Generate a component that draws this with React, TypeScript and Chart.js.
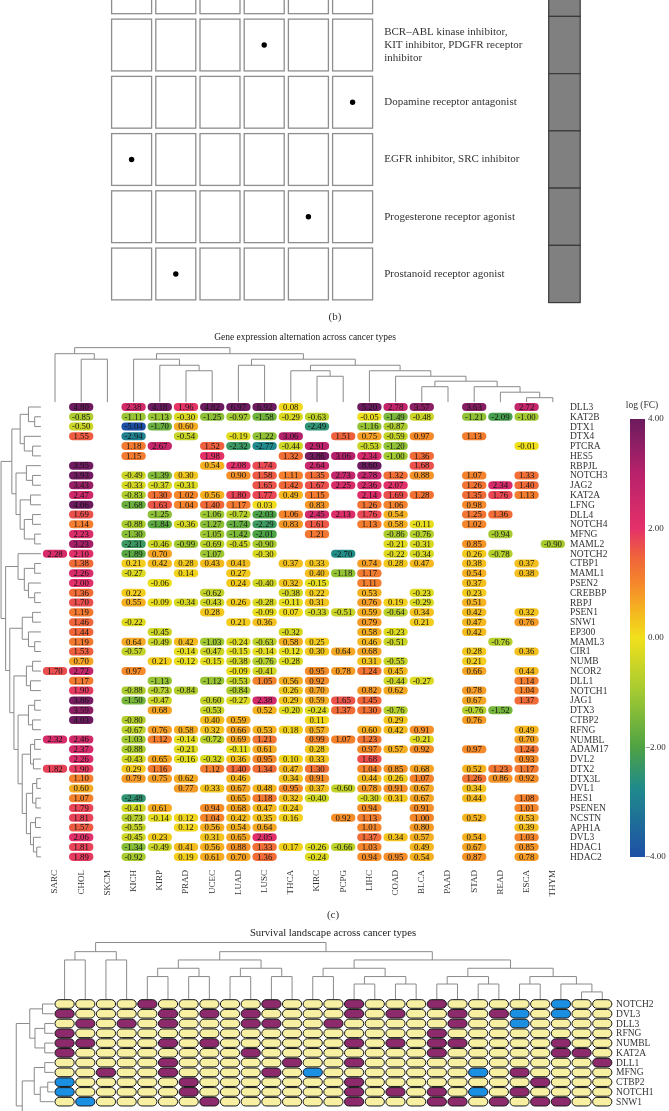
import { useEffect, useRef } from "react";
import { Chart, registerables } from "chart.js";
Chart.register(...registerables);

const SERIF = '"Liberation Serif", "DejaVu Serif", serif';
const _ = null;

// ---------- Panel (b): drug classes ----------
const drugColumns = [1, 2, 3, 4, 5, 6];
const drugRowSlots = [0, 1, 2, 3, 4, 5];
const drugClassLabels = [
  ["BCR–ABL kinase inhibitor,", "KIT inhibitor, PDGFR receptor", "inhibitor"],
  ["Dopamine receptor antagonist"],
  ["EGFR inhibitor, SRC inhibitor"],
  ["Progesterone receptor agonist"],
  ["Prostanoid receptor agonist"],
];
const drugHitRow = [1, 2, 3, 4, 5];
const drugHitColumn = [4, 6, 1, 5, 2];

// ---------- Panel (c): expression heatmap ----------
const cancerTypes = ["SARC", "CHOL", "SKCM", "KICH", "KIRP", "PRAD", "UCEC", "LUAD", "LUSC", "THCA", "KIRC", "PCPG", "LIHC", "COAD", "BLCA", "PAAD", "STAD", "READ", "ESCA", "THYM"];
const genes = ["DLL3", "KAT2B", "DTX1", "DTX4", "PTCRA", "HES5", "RBPJL", "NOTCH3", "JAG2", "KAT2A", "LFNG", "DLL4", "NOTCH4", "MFNG", "MAML2", "NOTCH2", "CTBP1", "MAML1", "PSEN2", "CREBBP", "RBPJ", "PSEN1", "SNW1", "EP300", "MAML3", "CIR1", "NUMB", "NCOR2", "DLL1", "NOTCH1", "JAG1", "DTX3", "CTBP2", "RFNG", "NUMBL", "ADAM17", "DVL2", "DTX2", "DTX3L", "DVL1", "HES1", "PSENEN", "NCSTN", "APH1A", "DVL3", "HDAC1", "HDAC2"];
const logFC = [
  [_, 4.80, _, 2.38, 4.18, 1.96, 4.82, 6.97, 6.92, 0.08, _, _, 5.20, 2.78, 3.57, _, 3.63, _, 2.72, _],
  [_, -0.85, _, -1.11, -1.13, -0.30, -1.25, -0.97, -1.58, -0.29, -0.63, _, -0.05, -1.49, -0.48, _, -1.21, -2.09, -1.00, _],
  [_, -0.50, _, -5.04, -1.70, 0.60, _, _, _, _, -2.49, _, -1.16, -0.87, _, _, _, _, _, _],
  [_, 1.55, _, -2.94, _, -0.54, _, -0.19, -1.22, 3.06, _, 1.51, 0.75, -0.59, 0.97, _, 1.13, _, _, _],
  [_, _, _, 1.18, 2.67, _, 1.52, -2.32, -2.77, -0.44, 2.91, _, -0.53, -1.20, _, _, _, _, -0.01, _],
  [_, _, _, 1.15, _, _, 1.98, _, _, 1.32, 3.86, 3.06, 2.34, -1.00, 1.36, _, _, _, _, _],
  [_, 3.95, _, _, _, _, 0.54, 2.08, 1.74, _, 2.64, _, 8.60, _, 1.68, _, _, _, _, _],
  [_, 3.93, _, -0.49, -1.39, 0.30, _, 0.90, 1.58, 1.11, 1.35, 2.73, 2.78, 1.32, 0.88, _, 1.07, _, 1.33, _],
  [_, 3.43, _, -0.33, -0.37, -0.31, _, _, 1.65, 1.42, 1.67, 2.25, 2.36, 2.07, _, _, 1.26, 2.34, 1.40, _],
  [_, 2.47, _, -0.83, 1.30, 1.02, 0.56, 1.80, 1.77, 0.49, 1.15, _, 2.14, 1.69, 1.28, _, 1.35, 1.76, 1.13, _],
  [_, 4.06, _, -1.68, 1.63, 1.04, 1.40, 1.17, 0.03, _, 0.83, _, 1.26, 1.06, _, _, 0.98, _, _, _],
  [_, 1.69, _, _, -1.25, _, -1.06, -0.72, -2.03, 1.06, 2.45, 2.13, 1.76, 0.54, _, _, 1.25, 1.36, _, _],
  [_, 1.14, _, -0.88, -1.84, -0.36, -1.27, -1.74, -2.29, 0.83, 1.61, _, 1.13, 0.58, -0.11, _, 1.02, _, _, _],
  [_, 2.23, _, -1.30, _, _, -1.05, -1.42, -2.01, _, 1.21, _, _, -0.86, -0.76, _, _, -0.94, _, _],
  [_, 3.23, _, -2.31, -0.46, -0.99, -0.69, -0.45, -0.90, _, _, _, _, -0.21, -0.31, _, 0.85, _, _, -0.90],
  [2.28, 2.10, _, -1.89, 0.70, _, -1.07, _, -0.30, _, _, -2.70, _, -0.22, -0.34, _, 0.26, -0.78, _, _],
  [_, 1.38, _, 0.21, 0.42, 0.28, 0.43, 0.41, _, 0.37, 0.33, _, 0.74, 0.28, 0.47, _, 0.38, _, 0.37, _],
  [_, 2.26, _, -0.27, _, 0.14, _, 0.27, _, _, 0.40, -1.18, 1.17, _, _, _, 0.54, _, 0.38, _],
  [_, 2.00, _, _, -0.06, _, _, 0.24, -0.40, 0.32, -0.15, _, 1.11, _, _, _, 0.37, _, _, _],
  [_, 1.36, _, 0.22, _, _, -0.62, _, _, -0.38, 0.22, _, 0.53, _, -0.23, _, 0.23, _, _, _],
  [_, 1.70, _, 0.55, -0.09, -0.34, -0.43, 0.26, -0.28, -0.11, 0.31, _, 0.76, 0.19, -0.29, _, 0.51, _, _, _],
  [_, 1.19, _, _, _, _, 0.28, _, -0.09, 0.07, -0.33, -0.51, 0.59, -0.64, 0.34, _, 0.42, _, 0.32, _],
  [_, 1.46, _, -0.22, _, _, _, 0.21, 0.36, _, _, _, 0.79, _, 0.21, _, 0.47, _, 0.76, _],
  [_, 1.44, _, _, -0.45, _, _, _, _, -0.32, _, _, 0.58, -0.23, _, _, 0.42, _, _, _],
  [_, 1.19, _, 0.64, -0.49, 0.42, -1.03, -0.24, -0.63, 0.58, 0.25, _, 0.46, -0.51, _, _, _, -0.76, _, _],
  [_, 1.53, _, -0.57, _, -0.14, -0.47, -0.15, -0.14, -0.12, 0.30, 0.64, 0.68, _, _, _, 0.28, _, 0.36, _],
  [_, 0.70, _, _, 0.21, -0.12, -0.15, -0.38, -0.76, -0.28, _, _, 0.31, -0.55, _, _, 0.21, _, _, _],
  [1.70, 2.72, _, 0.97, _, _, _, -0.09, -0.41, _, 0.95, 0.78, 1.24, 0.45, _, _, 0.66, _, 0.44, _],
  [_, 1.17, _, _, -1.13, _, -1.12, -0.53, 1.05, 0.56, 0.92, _, _, -0.44, -0.27, _, _, _, 1.14, _],
  [_, 1.90, _, -0.88, -0.73, -0.84, _, -0.84, _, 0.26, 0.70, _, 0.82, 0.62, _, _, 0.78, _, 1.04, _],
  [_, 3.86, _, -1.50, -0.47, _, -0.60, -0.27, 2.38, 0.29, 0.59, 1.65, 1.45, _, _, _, 0.67, _, 1.37, _],
  [_, 3.59, _, _, 0.68, _, -0.53, _, 0.52, -0.20, -0.24, 1.37, 1.30, -0.76, _, _, -0.76, -1.52, _, _],
  [_, 4.03, _, -0.80, _, _, 0.40, 0.59, _, _, 0.11, _, _, 0.29, _, _, 0.76, _, _, _],
  [_, _, _, -0.67, 0.76, 0.58, 0.32, 0.66, 0.53, 0.18, 0.57, _, 0.60, 0.42, 0.91, _, _, _, 0.49, _],
  [2.32, 2.46, _, -1.03, 1.12, -0.14, -0.72, 0.69, 1.21, _, 0.99, 1.07, 1.23, _, -0.21, _, _, _, 0.70, _],
  [_, 2.37, _, -0.88, _, -0.21, _, -0.11, 0.61, _, 0.28, _, 0.97, 0.57, 0.92, _, 0.97, _, 1.24, _],
  [_, 2.26, _, -0.43, 0.65, -0.16, -0.32, 0.36, 0.95, 0.10, 0.33, _, 1.68, _, _, _, _, _, 0.93, _],
  [1.82, 1.90, _, 0.29, 1.16, _, 1.12, 1.40, 1.34, 0.47, 1.30, _, 1.04, 0.85, 0.68, _, 0.52, 1.23, 1.17, _],
  [_, 1.10, _, 0.79, 0.75, 0.62, _, 0.46, _, 0.34, 0.91, _, 0.44, 0.26, 1.07, _, 1.26, 0.86, 0.92, _],
  [_, 0.60, _, _, _, 0.77, 0.33, 0.67, 0.48, 0.95, 0.37, -0.60, 0.78, 0.91, 0.67, _, 0.34, _, _, _],
  [_, 1.07, _, -2.48, _, _, _, 0.65, 1.18, 0.32, -0.40, _, -0.30, 0.31, 0.67, _, 0.44, _, 1.08, _],
  [_, 1.79, _, -0.41, 0.61, _, 0.94, 0.68, 0.47, 0.24, _, _, 0.94, _, 0.91, _, _, _, 1.01, _],
  [_, 1.81, _, -0.73, -0.14, 0.12, 1.04, 0.42, 0.35, 0.16, _, 0.92, 1.13, _, 1.00, _, 0.52, _, 0.53, _],
  [_, 1.57, _, -0.55, _, 0.12, 0.56, 0.54, 0.64, _, _, _, 1.01, _, 0.80, _, _, _, 0.39, _],
  [_, 2.06, _, -0.45, 0.23, _, 0.31, 0.65, 2.05, _, _, _, 1.37, 0.34, 0.57, _, 0.54, _, 1.03, _],
  [_, 1.81, _, -1.34, -0.49, 0.41, 0.56, 0.88, 1.33, 0.17, -0.26, -0.66, 1.03, _, 0.49, _, 0.67, _, 0.85, _],
  [_, 1.89, _, -0.92, _, 0.19, 0.61, 0.70, 1.36, _, -0.24, _, 0.94, 0.95, 0.54, _, 0.87, _, 0.78, _],
];
const legendTicks = [4, 2, 0, -2, -4];

type Tree = number | { h: number; c: [Tree, Tree] };
const n = (h: number, a: Tree, b: Tree): Tree => ({ h, c: [a, b] });

// column clustering (merge heights)
const exprColTree: Tree = n(9.9,
  n(8.8, 0, n(7.8, 1, 2)),
  n(8.8,
    n(7.8, 3, n(6.7, 4, n(5.7, 5, 6))),
    n(7.8,
      n(6.7, 7, 8),
      n(6.7,
        n(5.7, 9, n(4.7, 10, 11)),
        n(5.7, 12, n(4.7, 13, n(3.8, n(2.8, 14, 15), n(2.8, 16, n(1.8, 17, n(0.8, 18, 19))))))))));

// row clustering (merge heights)
const exprRowTree: Tree = n(9.6,
  n(7, n(5, n(3, 0, n(1.5, 1, 2)), n(4, 3, n(2, 4, 5))),
    n(6, n(3.5, 6, n(2, 7, 8)), n(5, n(2.5, 9, 10), n(4, n(2, 11, 12), n(1.5, 13, 14))))),
  n(8.5,
    n(5.5, 15, n(4, n(1.5, 16, 17), n(3, 18, n(1.5, 19, 20)))),
    n(7.5,
      n(4.5, n(2, 21, 22), n(3, 23, n(1.5, 24, 25))),
      n(6.5,
        n(3.5, n(2, 26, 27), n(2.5, 28, 29)),
        n(5.5,
          n(3, n(1.5, 30, 31), n(2, 32, 33)),
          n(4.5,
            n(2.5, n(1.5, 34, 35), n(1.8, 36, 37)),
            n(3.5, n(2, n(1, 38, 39), n(1.2, 40, 41)),
              n(2.5, n(1.3, 42, 43), n(1.8, 44, n(1, 45, 46))))))))));

// ---------- Survival landscape ----------
const survivalGenes = ["NOTCH2", "DVL3", "DLL3", "RFNG", "NUMBL", "KAT2A", "DLL1", "MFNG", "CTBP2", "NOTCH1", "SNW1"];
// 1 = risk (purple), -1 = protective (blue), 0 = not significant
const survNOTCH2 = [0, 0, 0, 0, 1, 0, 0, 0, 0, 0, 1, 0, 0, 0, 1, 0, 0, 0, 1, 0, 0, 0, 0, 0, -1, 0, 0];
const survDVL3 = [1, 0, 0, 0, 0, 1, 0, 1, 0, 1, 0, 0, 0, 0, 1, 0, 1, 0, 0, 1, 0, 1, -1, 0, -1, 0, 0];
const survDLL3 = [0, 1, 0, 1, 0, 1, 0, 0, 0, 1, 1, 0, 0, 1, 0, 0, 0, 0, 0, 1, 0, 0, -1, 0, 0, 0, 0];
const survRFNG = [1, 0, 0, 0, 0, 0, 0, 0, 0, 0, 0, 0, 0, 0, 0, 0, 0, 0, 1, 0, 0, 0, 0, 0, 0, 0, 0];
const survNUMBL = [1, 1, 0, 0, 0, 1, 0, 1, 0, 0, 0, 0, 0, 0, 1, 0, 1, 0, 1, 1, 0, 0, 0, 0, 1, 0, 0];
const survKAT2A = [1, 0, 0, 0, 0, 0, 0, 0, 0, 1, 0, 0, 0, 0, 0, 0, 0, 0, 1, 0, 0, 0, 0, 0, 1, 1, 0];
const survDLL1 = [0, 0, 0, 0, 0, 1, 0, 0, 0, 0, 0, 1, 0, 0, 1, 0, 0, 0, 0, 0, 0, 0, 0, 0, 0, 0, 1];
const survMFNG = [0, 0, 1, 0, 0, 1, 0, 0, 0, 0, 1, 0, -1, 0, 0, 0, 0, 0, 0, 0, -1, 0, 1, 0, 0, 0, 0];
const survCTBP2 = [-1, 0, 0, 0, 0, 0, 1, 0, 0, 0, 0, 0, 0, 0, 1, 0, 0, 0, 0, 0, 0, 0, 0, 1, 0, 0, 0];
const survNOTCH1 = [-1, 0, 0, 0, 0, 0, 1, 0, 0, 0, 0, 0, 0, 0, 1, 0, 1, 0, 1, 0, -1, 0, 1, 0, 0, 0, 0];
const survSNW1 = [0, -1, 0, 0, 0, 0, 0, 1, 0, 0, 0, 0, 0, 0, 1, 0, 0, 0, 1, 1, 0, 1, 0, 1, 1, 0, 0];
const survivalRows = [survNOTCH2, survDVL3, survDLL3, survRFNG, survNUMBL, survKAT2A, survDLL1, survMFNG, survCTBP2, survNOTCH1, survSNW1];

const survColTree: Tree = n(6.9,
  n(5.8, n(4.8, 0, 1), n(4.8, 2, 3)),
  n(5.8,
    n(4.8, n(3.8, n(2.8, 4, 5), n(2.8, 6, 7)), n(3.8, n(2.8, 8, 9), n(2.8, 10, 11))),
    n(4.8,
      n(3.8, n(2.8, 12, 13), n(2.8, n(1.9, 14, 15), n(1.9, 16, 17))),
      n(3.8, n(2.8, n(1.9, 18, 19), n(1.9, 20, 21)), n(2.8, n(1.9, 22, 23), n(1.9, 24, n(0.95, 25, 26)))))));
// rows continue below the visible part (index 13 = rest of the tree)
const survRowTree: Tree = n(5,
  n(3.2, n(1.5, 0, 1), n(2.5, n(1.2, 2, 3), n(1.2, 4, 5))),
  n(4.2, n(2.6, n(1.2, 6, 7), n(1.8, n(0.8, 8, 9), 10)), 13));

// ---------- helpers ----------
const fcStops: [number, string][] = [
  [-4, "#1e4fa6"], [-2.75, "#1f8a8c"], [-2, "#4ea244"], [-1, "#a2c932"], [0, "#f1e01c"],
  [0.5, "#f5b520"], [1, "#f5872b"], [1.5, "#ef623c"], [2, "#e4306a"], [3, "#b8226b"], [4, "#6b1b5e"],
];
function hex(c: string) { return [1, 3, 5].map((i) => parseInt(c.slice(i, i + 2), 16)); }
function fcColor(v: number) {
  const x = Math.max(-4, Math.min(4, v));
  for (let i = 0; i < fcStops.length - 1; i++) {
    const [a, ca] = fcStops[i];
    const [b, cb] = fcStops[i + 1];
    if (x >= a && x <= b) {
      const t = (x - a) / (b - a);
      const A = hex(ca), B = hex(cb);
      return `rgb(${A.map((q, k) => Math.round(q + (B[k] - q) * t)).join(",")})`;
    }
  }
  return fcStops[fcStops.length - 1][1];
}
const survColors: Record<string, string> = { "0": "#f7f0a3", "1": "#8c2a6b", "-1": "#1b8fe2" };

function pill(ctx: CanvasRenderingContext2D, cx: number, cy: number, w: number, h: number) {
  const r = h / 2;
  ctx.beginPath();
  ctx.moveTo(cx - w / 2 + r, cy - r);
  ctx.lineTo(cx + w / 2 - r, cy - r);
  ctx.arc(cx + w / 2 - r, cy, r, -Math.PI / 2, Math.PI / 2);
  ctx.lineTo(cx - w / 2 + r, cy + r);
  ctx.arc(cx - w / 2 + r, cy, r, Math.PI / 2, (3 * Math.PI) / 2);
  ctx.closePath();
}

function drawTree(ctx: CanvasRenderingContext2D, t: Tree, leafPos: (i: number) => number, hPos: (h: number) => number, columns: boolean) {
  const seg = (a: number, b: number, c: number, d: number) => {
    ctx.beginPath();
    if (columns) { ctx.moveTo(a, b); ctx.lineTo(c, d); } else { ctx.moveTo(b, a); ctx.lineTo(d, c); }
    ctx.stroke();
  };
  const rec = (node: Tree): { p: number; q: number } => {
    if (typeof node === "number") return { p: leafPos(node), q: hPos(0) };
    const a = rec(node.c[0]);
    const b = rec(node.c[1]);
    const q = hPos(node.h);
    seg(a.p, a.q, a.p, q);
    seg(b.p, b.q, b.p, q);
    seg(a.p, q, b.p, q);
    return { p: (a.p + b.p) / 2, q };
  };
  rec(t);
}

const baseOptions = (padding: any, x: any, y: any) => ({
  responsive: false,
  animation: false as const,
  events: [],
  layout: { padding },
  scales: { x: { type: "linear", display: false, ...x }, y: { type: "linear", display: false, ...y } },
  plugins: { legend: { display: false }, tooltip: { enabled: false }, title: { display: false } },
});

// ---------- chart configs ----------
function configB(): any {
  const plugin = {
    id: "drugPanel",
    beforeDatasetsDraw(chart: any) {
      const { ctx } = chart;
      const xs = chart.scales.x, ys = chart.scales.y;
      const pw = xs.getPixelForValue(2) - xs.getPixelForValue(1);
      const ph = ys.getPixelForValue(2) - ys.getPixelForValue(1);
      const w = pw * 0.905, h = ph * 0.905;
      ctx.save();
      ctx.strokeStyle = "#8e8e8e";
      ctx.lineWidth = 1.3;
      drugRowSlots.forEach((r) => drugColumns.forEach((c) => {
        const cx = xs.getPixelForValue(c), cy = ys.getPixelForValue(r);
        ctx.fillStyle = "#ffffff";
        ctx.fillRect(cx - w / 2, cy - h / 2, w, h);
        ctx.strokeRect(cx - w / 2, cy - h / 2, w, h);
      }));
      ctx.fillStyle = "#333";
      ctx.font = `11px ${SERIF}`;
      ctx.textBaseline = "middle";
      ctx.textAlign = "left";
      const lx = xs.right + 9.5;
      drugClassLabels.forEach((lines, i) => {
        const cy = ys.getPixelForValue(drugHitRow[i]);
        lines.forEach((ln, k) => ctx.fillText(ln, lx, cy + (k - (lines.length - 1) / 2) * 13.3));
      });
      const bx = xs.right + 174, bw = 31.5;
      drugRowSlots.forEach((r) => {
        const cy = ys.getPixelForValue(r);
        ctx.fillStyle = "#808080";
        ctx.fillRect(bx, cy - ph / 2, bw, ph);
        ctx.strokeStyle = "#3a3a3a";
        ctx.lineWidth = 1.2;
        ctx.strokeRect(bx, cy - ph / 2, bw, ph);
      });
      ctx.fillStyle = "#333";
      ctx.font = `11px ${SERIF}`;
      ctx.textAlign = "center";
      ctx.fillText("(b)", 335, 317);
      ctx.restore();
    },
  };
  return {
    type: "scatter",
    data: {
      datasets: [{
        data: drugHitColumn.map((c, i) => ({ x: c, y: drugHitRow[i] })),
        pointRadius: 2.7, pointBackgroundColor: "#000", pointBorderWidth: 0,
      }],
    },
    options: baseOptions({ left: 109.5, right: 294.3, top: 16.4, bottom: 22.4 }, { min: 0.5, max: 6.5 }, { min: 0.5, max: 5.5, reverse: true }),
    plugins: [plugin],
  };
}

function configC(): any {
  const cells: any[] = [];
  logFC.forEach((row, r) => row.forEach((v, c) => { if (v !== null) cells.push({ x: c, y: r, v }); }));
  const plugin = {
    id: "exprHeatmap",
    afterDatasetsDraw(chart: any) {
      const { ctx } = chart;
      const xs = chart.scales.x, ys = chart.scales.y;
      const pw = xs.getPixelForValue(1) - xs.getPixelForValue(0);
      const ph = ys.getPixelForValue(1) - ys.getPixelForValue(0);
      ctx.save();
      ctx.fillStyle = "#222";
      ctx.font = `9.5px ${SERIF}`;
      ctx.textAlign = "center";
      ctx.textBaseline = "middle";
      ctx.fillText("Gene expression alternation across cancer types", 305, 12);
      ctx.strokeStyle = "#8a8a8a";
      ctx.lineWidth = 1;
      drawTree(ctx, exprColTree, (i) => xs.getPixelForValue(i), (h) => ys.top - h * 5.5, true);
      drawTree(ctx, exprRowTree, (i) => ys.getPixelForValue(i), (h) => xs.left - 1 - h * 4.15, false);
      const cw = pw * 0.93, chh = ph * 0.82;
      ctx.font = `8.8px ${SERIF}`;
      chart.data.datasets[0].data.forEach((d: any) => {
        const cx = xs.getPixelForValue(d.x), cy = ys.getPixelForValue(d.y);
        ctx.fillStyle = fcColor(d.v);
        pill(ctx, cx, cy, cw, chh);
        ctx.fill();
        ctx.fillStyle = "#141414";
        ctx.fillText(d.v.toFixed(2), cx, cy + 0.5);
      });
      ctx.fillStyle = "#333";
      ctx.font = `9.5px ${SERIF}`;
      ctx.textAlign = "left";
      genes.forEach((g, i) => ctx.fillText(g, xs.right + 4.1, ys.getPixelForValue(i) + 0.5));
      ctx.font = `9px ${SERIF}`;
      cancerTypes.forEach((c, i) => {
        ctx.save();
        ctx.translate(xs.getPixelForValue(i), ys.bottom + 8.2);
        ctx.rotate(-Math.PI / 2);
        ctx.textAlign = "right";
        ctx.fillText(c, 0, 0);
        ctx.restore();
      });
      const lx = xs.right + 64.1, lw = 15, ltop = 94, lbot = 532;
      const grad = ctx.createLinearGradient(0, ltop, 0, lbot);
      fcStops.forEach(([v, col]) => grad.addColorStop((4 - v) / 8, col));
      ctx.fillStyle = grad;
      ctx.fillRect(lx, ltop, lw, lbot - ltop);
      ctx.fillStyle = "#333";
      ctx.font = `9.5px ${SERIF}`;
      ctx.textAlign = "center";
      ctx.fillText("log (FC)", lx + 12, 80);
      ctx.font = `9px ${SERIF}`;
      ctx.textAlign = "left";
      legendTicks.forEach((t) => {
        const ty = ltop + ((4 - t) / 8) * (lbot - ltop);
        const s = (t < 0 ? "\u2212" : "") + Math.abs(t).toFixed(2);
        ctx.fillText(s, lx + lw + (t < 0 ? 0 : 3), ty);
      });
      ctx.font = `11px ${SERIF}`;
      ctx.textAlign = "center";
      ctx.fillText("(c)", 333, 590);
      ctx.restore();
    },
  };
  return {
    type: "scatter",
    data: { datasets: [{ data: cells, pointRadius: 0 }] },
    options: baseOptions({ left: 41.9, right: 103.1, top: 77.1, bottom: 63.24 }, { min: -0.5, max: 19.5 }, { min: -0.5, max: 46.5, reverse: true }),
    plugins: [plugin],
  };
}

function configD(): any {
  const cells: any[] = [];
  survivalRows.forEach((row, r) => row.forEach((v, c) => cells.push({ x: c, y: r, v })));
  const plugin = {
    id: "survHeatmap",
    afterDatasetsDraw(chart: any) {
      const { ctx } = chart;
      const xs = chart.scales.x, ys = chart.scales.y;
      const pw = xs.getPixelForValue(1) - xs.getPixelForValue(0);
      const ph = ys.getPixelForValue(1) - ys.getPixelForValue(0);
      ctx.save();
      ctx.fillStyle = "#222";
      ctx.font = `10.7px ${SERIF}`;
      ctx.textAlign = "center";
      ctx.textBaseline = "middle";
      ctx.fillText("Survival landscape across cancer types", 333, 8);
      ctx.strokeStyle = "#8a8a8a";
      ctx.lineWidth = 1;
      drawTree(ctx, survColTree, (i) => xs.getPixelForValue(i), (h) => ys.top + 0.7 - h * 8.3, true);
      drawTree(ctx, survRowTree, (i) => ys.getPixelForValue(i), (h) => xs.left - 0.5 - h * 7.5, false);
      const cw = pw * 0.93, chh = ph * 0.88;
      ctx.strokeStyle = "#161616";
      ctx.lineWidth = 1;
      chart.data.datasets[0].data.forEach((d: any) => {
        const cx = xs.getPixelForValue(d.x), cy = ys.getPixelForValue(d.y);
        ctx.fillStyle = survColors[String(d.v)];
        pill(ctx, cx, cy, cw, chh);
        ctx.fill();
        ctx.stroke();
      });
      ctx.fillStyle = "#333";
      ctx.font = `9.5px ${SERIF}`;
      ctx.textAlign = "left";
      survivalGenes.forEach((g, i) => ctx.fillText(g, xs.right + 3.5, ys.getPixelForValue(i) + 0.5));
      ctx.restore();
    },
  };
  return {
    type: "scatter",
    data: { datasets: [{ data: cells, pointRadius: 0 }] },
    options: baseOptions({ left: 54.26, right: 56.4, top: 74.1, bottom: 4.43 }, { min: -0.5, max: 26.5 }, { min: -0.5, max: 10.5, reverse: true }),
    plugins: [plugin],
  };
}

export default function App() {
  const refB = useRef<HTMLCanvasElement>(null);
  const refC = useRef<HTMLCanvasElement>(null);
  const refD = useRef<HTMLCanvasElement>(null);
  useEffect(() => {
    const charts = [
      new Chart(refB.current as HTMLCanvasElement, configB()),
      new Chart(refC.current as HTMLCanvasElement, configC()),
      new Chart(refD.current as HTMLCanvasElement, configD()),
    ];
    return () => charts.forEach((c) => c.destroy());
  }, []);
  return (
    <div style={{ position: "absolute", left: 0, top: 0, width: 669, height: 1111, background: "#fff", overflow: "hidden" }}>
      <canvas ref={refB} width={669} height={325} style={{ position: "absolute", left: 0, top: 0, width: 669, height: 325 }} />
      <canvas ref={refC} width={669} height={600} style={{ position: "absolute", left: 0, top: 325, width: 669, height: 600 }} />
      <canvas ref={refD} width={669} height={186} style={{ position: "absolute", left: 0, top: 925, width: 669, height: 186 }} />
    </div>
  );
}
